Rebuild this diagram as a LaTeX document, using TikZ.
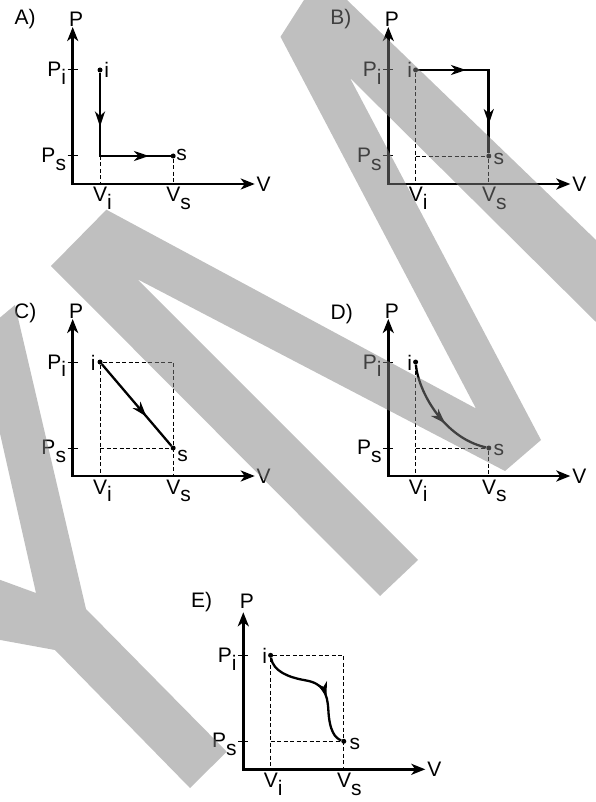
\documentclass[tikz,border=0pt]{standalone}
\usepackage{fontspec}
\setmainfont{Liberation Sans}
\usetikzlibrary{arrows.meta,decorations.markings}
\newcommand{\sbs}[1]{\raisebox{-0.38em}{#1}}
\newcommand{\pvbase}[5]{%
  \coordinate (#1o) at (0,0);
  \coordinate (#1yt) at (0,-157);
  \coordinate (#1xt) at (182,0);
  \draw[axisline] (#1yt) -- (#1o) -- (#1xt);
  \node[lbl,anchor=base] (#1P) at (3.5,#5) {P};
  \node[lbl,anchor=base] (#1V) at (191,7.5) {V};
  \node[lbl,anchor=base] (#1L) at (#3,#4) {#2)};
  \coordinate (#1pia) at (-5,-114); \coordinate (#1pib) at (5,-114);
  \coordinate (#1psa) at (-5,-28); \coordinate (#1psb) at (5,-28);
  \draw[tk] (#1pia) -- (#1pib);
  \draw[tk] (#1psa) -- (#1psb);
  \node[lbl,anchor=base east] (#1Pi) at (-6.5,-107) {P\sbs{i}};
  \node[lbl,anchor=base east] (#1Ps) at (-6.5,-21.5) {P\sbs{s}};
  \node[lbl,anchor=base west] (#1Vi) at (20.3,18) {V\sbs{i}};
  \node[lbl,anchor=base west] (#1Vs) at (93.5,18) {V\sbs{s}};
  \coordinate (#1vi) at (27.3,0); \coordinate (#1vs) at (100.5,0);
  \coordinate (#1pv) at (27.3,-28); \coordinate (#1tr) at (100.5,-114);
  \node[dot] (#1i) at (27.3,-114) {};
  \node[dot] (#1s) at (100.5,-28) {};
}
\begin{document}
\begin{tikzpicture}[x=1pt,y={(0pt,-1pt)},
  axisline/.style={line width=2.8pt,line join=miter,{Stealth[length=14pt,width=11pt,inset=4pt]}-{Stealth[length=14pt,width=11pt,inset=4pt]}},
  proc/.style={line width=2.8pt,line join=miter},
  thinproc/.style={line width=2.3pt},
  dsh/.style={line width=0.9pt,dash pattern=on 4pt off 2.5pt},
  tk/.style={line width=1pt},
  dot/.style={circle,fill=black,inner sep=0pt,minimum size=5pt},
  lbl/.style={font=\fontsize{21}{23}\selectfont,inner sep=0pt},
  marr/.style={postaction={decorate},decoration={markings,mark=at position #1 with {\arrow{Stealth[length=15pt,width=10pt,inset=4.5pt]}}}},
  marrtwo/.style 2 args={postaction={decorate},decoration={markings,
     mark=at position #1 with {\arrow{Stealth[length=15pt,width=10pt,inset=4.5pt]}},
     mark=at position #2 with {\arrow{Stealth[length=15pt,width=10pt,inset=4.5pt]}}}},
  wm/.style={fill=black!50,fill opacity=0.5}
]
\useasboundingbox (0,0) rectangle (596,802);
\fill[white] (0,0) rectangle (596,802);

% A
\begin{scope}[shift={(72.7,184)}]
  \pvbase{a}{A}{-47.5}{-159}{-157.3}
  \coordinate (ac) at (27.3,-28);
  \draw[proc,marrtwo={0.35}{0.86}] (ai) -- (ac) -- (as);
  \draw[dsh] (ac) -- (avi);
  \draw[dsh] (as) -- (avs);
  \node[lbl,anchor=base west] (ail) at (31.5,-106) {i};
  \node[lbl,anchor=base west] (asl) at (103.5,-23) {s};
\end{scope}

% B
\begin{scope}[shift={(388.3,184)}]
  \pvbase{b}{B}{-47.5}{-159}{-157.3}
  \draw[proc,marrtwo={0.31}{0.81}] (bi) -- (btr) -- (bs);
  \draw[dsh] (bi) -- (bvi);
  \draw[dsh] (bpv) -- (bs);
  \draw[dsh] (bs) -- (bvs);
  \node[lbl,anchor=base east] (bil) at (24,-106) {i};
  \node[lbl,anchor=base west] (bsl) at (105,-19) {s};
\end{scope}

% C
\begin{scope}[shift={(72.7,476)}]
  \pvbase{c}{C}{-47.5}{-157.7}{-157.3}
  \draw[dsh] (ci) -- (ctr) -- (cvs);
  \draw[dsh] (ci) -- (cvi);
  \draw[dsh] (cpv) -- (cs);
  \draw[thinproc,marr=0.64] (ci) -- (cs);
  \node[lbl,anchor=base east] (cil) at (23,-106) {i};
  \node[lbl,anchor=base west] (csl) at (104.5,-14.5) {s};
\end{scope}

% D
\begin{scope}[shift={(388.3,476)}]
  \pvbase{d}{D}{-46.5}{-157}{-157.3}
  \draw[dsh] (di) -- (dvi);
  \draw[dsh] (dpv) -- (ds);
  \draw[dsh] (ds) -- (dvs);
  \draw[thinproc,marr=0.58] (di) .. controls (30,-85) and (55,-38) .. (ds);
  \node[lbl,anchor=base east] (dil) at (24,-106) {i};
  \node[lbl,anchor=base west] (dsl) at (105,-21) {s};
\end{scope}

% E
\begin{scope}[shift={(243.3,769.3)}]
  \pvbase{e}{E}{-41.6}{-162}{-161}
  \draw[dsh] (ei) -- (etr) -- (evs);
  \draw[dsh] (ei) -- (evi);
  \draw[dsh] (epv) -- (es);
  \draw[thinproc,marr=0.6] (ei) .. controls (30,-98) and (45,-92) .. (62,-89)
     .. controls (80,-86) and (84,-76) .. (85,-60)
     .. controls (86,-38) and (92,-31) .. (es);
  \node[lbl,anchor=base east] (eil) at (24,-106) {i};
  \node[lbl,anchor=base west] (esl) at (106,-19.5) {s};
\end{scope}

% watermark
\begin{scope}
  \clip (0,0) rectangle (596,802);
  \fill[wm] (280.5,36.8) -- (304,0) -- (347,0) -- (596,240) -- (596,322)
    -- (350,78) -- (541,440) -- (505,471) -- (137,279) -- (418,560)
    -- (380,596) -- (51,266) -- (106.4,209.7) -- (476,408.5) -- cycle;
  \fill[wm] (15,305) -- (86,609) -- (226.7,751.7) -- (190,788) -- (55,650)
    -- (-5,639) -- (-5,578) -- (36,593) -- (-22,336) -- cycle;
\end{scope}
\end{tikzpicture}
\end{document}
